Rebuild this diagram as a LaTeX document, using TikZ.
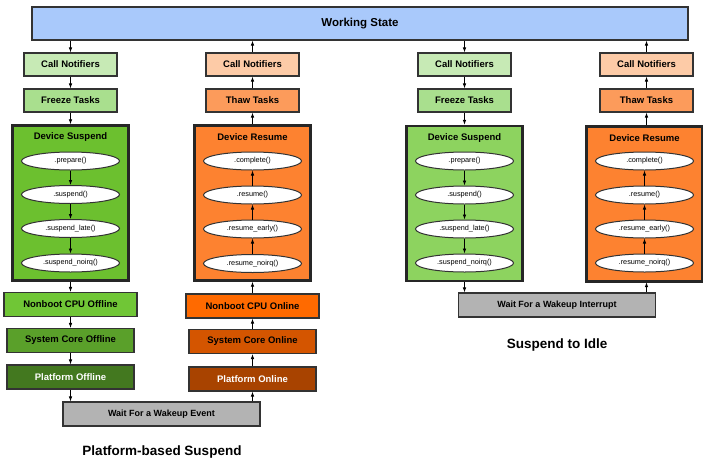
\documentclass[tikz,border=0pt]{standalone}
\usepackage{fontspec}
\setmainfont{Liberation Sans}
\usetikzlibrary{shapes.geometric,arrows.meta}
\definecolor{wsblue}{HTML}{A9C9FB}
\definecolor{cngreen}{HTML}{C7EAB5}
\definecolor{frgreen}{HTML}{A9DF8E}
\definecolor{dsgreen}{HTML}{6CC02F}
\definecolor{dsgreenb}{HTML}{8DD35F}
\definecolor{nbgreen}{HTML}{70C636}
\definecolor{scgreen}{HTML}{5AA02A}
\definecolor{pfgreen}{HTML}{43781F}
\definecolor{cnorange}{HTML}{FDCBA7}
\definecolor{thorange}{HTML}{FC9B5B}
\definecolor{drorange}{HTML}{FD8230}
\definecolor{nborange}{HTML}{FF6A00}
\definecolor{scorange}{HTML}{D45500}
\definecolor{pforange}{HTML}{A84300}
\definecolor{waitgray}{HTML}{B3B3B3}
\definecolor{edge}{HTML}{333333}
\tikzset{
  box/.style={draw=edge, line width=1.1pt, rectangle, inner sep=0pt, font=\bfseries\fontsize{9.5}{11}\selectfont},
  bigbox/.style={draw=black!85, line width=2.4pt, rectangle, inner sep=0pt, minimum width=116pt, minimum height=155pt},
  title/.style={font=\bfseries\fontsize{9.5}{11}\selectfont},
  oval/.style={draw=edge, line width=1pt, ellipse, fill=white, inner sep=0pt, minimum width=98pt, minimum height=18pt, font=\fontsize{7.3}{8}\selectfont},
  arr/.style={-{Latex[length=5pt,width=3.6pt]}, line width=0.8pt, black},
  caption/.style={font=\bfseries\fontsize{13.5}{15}\selectfont}
}
\begin{document}
\begin{tikzpicture}[x=1pt,y=-1pt]
\useasboundingbox (0,0) rectangle (703,461);
% working state
\node[box, fill=wsblue, minimum width=656pt, minimum height=33pt, font=\bfseries\fontsize{11.5}{13}\selectfont] (ws) at (360,23.5) {Working State};

% ---------- Platform-based suspend: suspend column ----------
\node[box, fill=cngreen, minimum width=93pt, minimum height=23pt] (cn1) at (70.5,64.5) {Call Notifiers};
\node[box, fill=frgreen, minimum width=93pt, minimum height=23pt] (fr1) at (70.5,100.5) {Freeze Tasks};
\node[bigbox, fill=dsgreen] (ds1) at (70.5,203) {};
\node[title] (ds1t) at (70.5,137) {Device Suspend};
\node[oval] (p1) at (70.5,161) {.prepare()};
\node[oval] (s1) at (70.5,194.5) {.suspend()};
\node[oval] (sl1) at (70.5,228.5) {.suspend\_late()};
\node[oval] (sn1) at (70.5,263) {.suspend\_noirq()};
\node[box, fill=nbgreen, minimum width=133pt, minimum height=24pt] (nbo) at (70.5,304.5) {Nonboot CPU Offline};
\node[box, fill=scgreen, minimum width=127pt, minimum height=24pt] (sco) at (70.5,340.5) {System Core Offline};
\node[box, fill=pfgreen, minimum width=127pt, minimum height=24pt, text=white] (pfo) at (70.5,377) {Platform Offline};

% ---------- Platform-based suspend: resume column ----------
\node[box, fill=cnorange, minimum width=93pt, minimum height=23pt] (cn2) at (252.5,64.5) {Call Notifiers};
\node[box, fill=thorange, minimum width=93pt, minimum height=23pt] (th2) at (252.5,100.5) {Thaw Tasks};
\node[bigbox, fill=drorange] (dr2) at (252.5,203) {};
\node[title] (dr2t) at (252.5,137) {Device Resume};
\node[oval] (c2) at (252.5,161) {.complete()};
\node[oval] (r2) at (252.5,195) {.resume()};
\node[oval] (re2) at (252.5,229) {.resume\_early()};
\node[oval] (rn2) at (252.5,263.5) {.resume\_noirq()};
\node[box, fill=nborange, minimum width=133pt, minimum height=24pt] (nbn) at (252.5,306) {Nonboot CPU Online};
\node[box, fill=scorange, minimum width=127pt, minimum height=24pt] (scn) at (252.5,341.5) {System Core Online};
\node[box, fill=pforange, minimum width=127pt, minimum height=24pt, text=white] (pfn) at (252.5,379) {Platform Online};

\node[box, fill=waitgray, minimum width=197pt, minimum height=24pt, font=\bfseries\fontsize{9}{10}\selectfont] (we) at (161.5,414) {Wait For a Wakeup Event};
\node[caption] (cap1) at (162,452) {Platform-based Suspend};

% ---------- Suspend to idle ----------
\node[box, fill=cngreen, minimum width=93pt, minimum height=23pt] (cn3) at (464.5,64.5) {Call Notifiers};
\node[box, fill=frgreen, minimum width=93pt, minimum height=23pt] (fr3) at (464.5,100.5) {Freeze Tasks};
\node[bigbox, fill=dsgreenb] (ds3) at (464.5,203.5) {};
\node[title] (ds3t) at (464.5,138) {Device Suspend};
\node[oval] (p3) at (464.5,161) {.prepare()};
\node[oval] (s3) at (464.5,195) {.suspend()};
\node[oval] (sl3) at (464.5,229) {.suspend\_late()};
\node[oval] (sn3) at (464.5,263) {.suspend\_noirq()};

\node[box, fill=cnorange, minimum width=93pt, minimum height=23pt] (cn4) at (646.5,64.5) {Call Notifiers};
\node[box, fill=thorange, minimum width=93pt, minimum height=23pt] (th4) at (646.5,100.5) {Thaw Tasks};
\node[bigbox, fill=drorange] (dr4) at (644.5,204) {};
\node[title] (dr4t) at (644.5,138) {Device Resume};
\node[oval] (c4) at (644.5,161) {.complete()};
\node[oval] (r4) at (644.5,195) {.resume()};
\node[oval] (re4) at (644.5,229) {.resume\_early()};
\node[oval] (rn4) at (644.5,263) {.resume\_noirq()};

\node[box, fill=waitgray, minimum width=197pt, minimum height=24pt, font=\bfseries\fontsize{9}{10}\selectfont] (wi) at (557,305) {Wait For a Wakeup Interrupt};
\node[caption] (cap2) at (557,345) {Suspend to Idle};

% ---------- arrows ----------
\draw[arr] (ws.south -| cn1) -- (cn1.north);
\draw[arr] (cn1) -- (fr1);
\draw[arr] (fr1) -- (ds1.north);
\draw[arr] (p1) -- (s1);
\draw[arr] (s1) -- (sl1);
\draw[arr] (sl1) -- (sn1);
\draw[arr] (ds1.south) -- (nbo.north);
\draw[arr] (nbo) -- (sco);
\draw[arr] (sco) -- (pfo);
\draw[arr] (pfo.south) -- (pfo.south |- we.north);

\draw[arr] (we.north -| pfn) -- (pfn.south);
\draw[arr] (pfn) -- (scn);
\draw[arr] (scn) -- (nbn);
\draw[arr] (nbn.north) -- (dr2.south);
\draw[arr] (rn2) -- (re2);
\draw[arr] (re2) -- (r2);
\draw[arr] (r2) -- (c2);
\draw[arr] (dr2.north) -- (th2.south);
\draw[arr] (th2) -- (cn2);
\draw[arr] (cn2.north) -- (cn2.north |- ws.south);

\draw[arr] (ws.south -| cn3) -- (cn3.north);
\draw[arr] (cn3) -- (fr3);
\draw[arr] (fr3) -- (fr3.south |- ds3.north);
\draw[arr] (p3) -- (s3);
\draw[arr] (s3) -- (sl3);
\draw[arr] (sl3) -- (sn3);
\draw[arr] (ds3.south) -- (ds3.south |- wi.north);

\draw[arr] (wi.north -| cn4) -- (ds3.south -| cn4);
\draw[arr] (rn4) -- (re4);
\draw[arr] (re4) -- (r4);
\draw[arr] (r4) -- (c4);
\draw[arr] (dr4.north -| th4) -- (th4.south);
\draw[arr] (th4) -- (cn4);
\draw[arr] (cn4.north) -- (cn4.north |- ws.south);
\end{tikzpicture}
\end{document}
